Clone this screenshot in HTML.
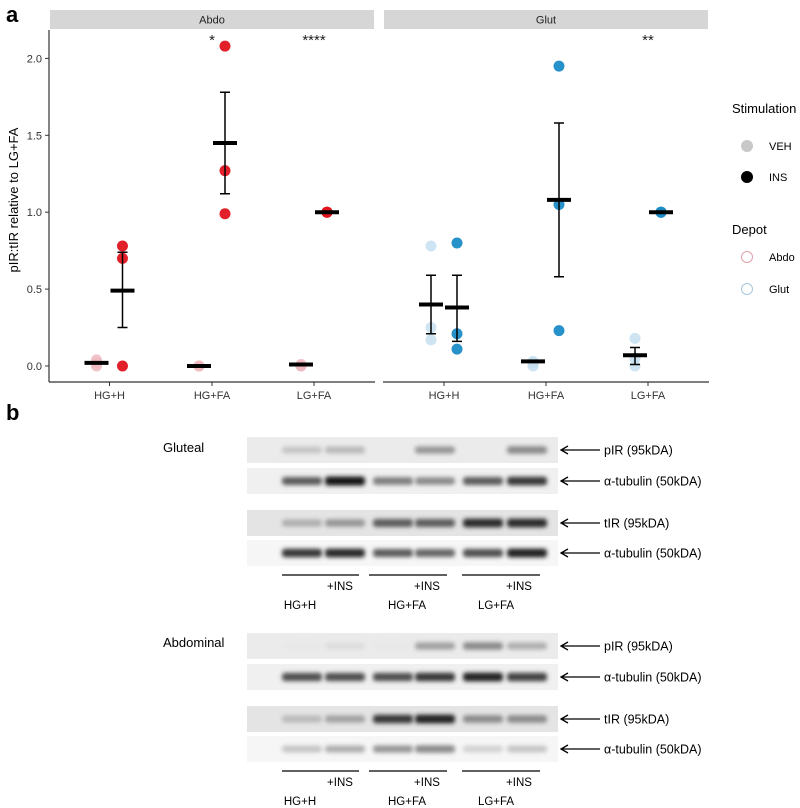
<!DOCTYPE html>
<html><head><meta charset="utf-8"><style>
body{margin:0;background:#fff;}
svg{display:block;font-family:"Liberation Sans",Arial,sans-serif;}
</style></head><body>
<svg id="fig" width="800" height="808" viewBox="0 0 800 808" xmlns="http://www.w3.org/2000/svg">
<defs><filter id="bl" x="-20%" y="-100%" width="140%" height="300%"><feGaussianBlur stdDeviation="2.2"/></filter></defs>
<text x="6" y="22" font-size="22" font-weight="bold">a</text>
<text x="6" y="420" font-size="22" font-weight="bold">b</text>
<g id="chart"></g>
<g id="blots"></g>
</svg>
<script>
const categories = ["HG+H","HG+FA","LG+FA"];
const panels = ["Abdo","Glut"];
const abdoVehPoints = [[0.02,0.04,0.0],[0.0,0.0,0.0],[0.0,0.01,0.0]];
const abdoInsPoints = [[0.78,0.70,0.0],[2.08,1.27,0.99],[1.0,1.0,1.0]];
const abdoVehMean = [0.02,0.0,0.01];
const abdoVehErr = [[0.02,0.02],[0,0],[0.01,0.01]];
const abdoInsMean = [0.49,1.45,1.0];
const abdoInsErr = [[0.25,0.74],[1.12,1.78],[1.0,1.0]];
const glutVehPoints = [[0.78,0.25,0.17],[0.03,0.0,0.02],[0.18,0.05,0.0]];
const glutInsPoints = [[0.80,0.21,0.11],[1.95,1.05,0.23],[1.0,1.0,1.0]];
const glutVehMean = [0.40,0.03,0.07];
const glutVehErr = [[0.21,0.59],[0.03,0.03],[0.01,0.12]];
const glutInsMean = [0.38,1.08,1.0];
const glutInsErr = [[0.16,0.59],[0.58,1.58],[1.0,1.0]];
const yTicks = [0.0,0.5,1.0,1.5,2.0];
const yTickLabels = ["0.0","0.5","1.0","1.5","2.0"];
const abdoStars = ["","*","****"];
const glutStars = ["","","**"];

const NS="http://www.w3.org/2000/svg";
const chart=document.getElementById('chart');
function mk(tag,attrs,parent,text){const e=document.createElementNS(NS,tag);for(const k in attrs)e.setAttribute(k,attrs[k]);if(text!==undefined)e.textContent=text;(parent||chart).appendChild(e);return e;}
function y(v){return 366-v*153.8;}
const panelX=[[50,374],[384,708]];
const catCenters=[[109.5,212,314],[444,546,648]];
function x(p,i,d){return catCenters[p][i]+(d===0?-13:13);}

// y axis
let e=mk('line',{x1:49,y1:30,x2:49,y2:382,stroke:'#333','stroke-width':1.2});

yTicks.forEach((t,i)=>{
  let l=mk('line',{x1:45,x2:49,y1:y(t),y2:y(t),stroke:'#333'});
  
  let tx=mk('text',{x:42,y:y(t)+4,'font-size':11,'text-anchor':'end',fill:'#333'},chart,yTickLabels[i]);
  
});
e=mk('text',{x:0,y:0,'font-size':13,'text-anchor':'middle',transform:'translate(18,200) rotate(-90)'},chart,'pIR:tIR relative to LG+FA');


const data=[
 {vp:abdoVehPoints,ip:abdoInsPoints,vm:abdoVehMean,ve:abdoVehErr,im:abdoInsMean,ie:abdoInsErr,stars:abdoStars,dark:'#e0141e',light:'#efb8bf'},
 {vp:glutVehPoints,ip:glutInsPoints,vm:glutVehMean,ve:glutVehErr,im:glutInsMean,ie:glutInsErr,stars:glutStars,dark:'#1b8bc6',light:'#c6dff0'}];
panels.forEach((name,p)=>{
  const [a,b]=panelX[p];
  let s=mk('rect',{x:a,y:10,width:b-a,height:19,fill:'#d6d6d6'});
  
  let st=mk('text',{x:(a+b)/2,y:23.5,'font-size':11,'text-anchor':'middle',fill:'#222'},chart,name);
  
  let ax=mk('line',{x1:a-1,x2:b+1,y1:382,y2:382,stroke:'#333','stroke-width':1.2});
  
  const d=data[p];
  categories.forEach((c,i)=>{
    let tk=mk('line',{x1:catCenters[p][i],x2:catCenters[p][i],y1:382,y2:386,stroke:'#333'});
    
    let tl=mk('text',{x:catCenters[p][i],y:399,'font-size':11,'text-anchor':'middle',fill:'#333'},chart,c);
    
    [[d.vp,d.light,0],[d.ip,d.dark,1]].forEach(([pts,col,dd])=>{
      pts[i].forEach(v=>{
        let ci=mk('circle',{cx:x(p,i,dd),cy:y(v),r:5.5,fill:col,'fill-opacity':dd?0.95:0.85});
        
      });
    });
    [[d.vm,d.ve,0],[d.im,d.ie,1]].forEach(([m,er,dd])=>{
      const cx=x(p,i,dd);
      if(er[i][1]-er[i][0]>0.005){
        let g=mk('path',{d:`M${cx-5},${y(er[i][0])}H${cx+5}M${cx},${y(er[i][0])}V${y(er[i][1])}M${cx-5},${y(er[i][1])}H${cx+5}`,stroke:'#000','stroke-width':1.5,fill:'none'});
        
      }
      let mb=mk('line',{x1:cx-12,x2:cx+12,y1:y(m[i]),y2:y(m[i]),stroke:'#000','stroke-width':4});
      
    });
    if(d.stars[i]){
      let sx=mk('text',{x:catCenters[p][i],y:45,'font-size':15,'text-anchor':'middle',fill:'#222'},chart,d.stars[i]);
      
    }
  });
});
// legend
const lg=mk('g',{});

[['Stimulation',732,113],['Depot',732,234]].forEach(([t,lx,ly])=>{let q=mk('text',{x:lx,y:ly,'font-size':13},lg,t);});
[['VEH',146,'#c8c8c8','#c8c8c8'],['INS',177,'#000','#000'],['Abdo',257,'none','#e0a0a8'],['Glut',289,'none','#a8c8dc']].forEach(([t,ly,f,s])=>{
  let c=mk('circle',{cx:747,cy:ly,r:5.5,fill:f,stroke:s},lg);
  let q=mk('text',{x:769,y:ly+4,'font-size':11},lg,t);
});

// blots
const blots=document.getElementById('blots');
const laneX=[302,345,393,435,483,527];
const sections=[
 {title:'Gluteal',ty:452,off:0,rows:[[0.25,0.3,0.0,0.45,0.0,0.5],[0.7,1.0,0.55,0.5,0.7,0.85],[0.35,0.45,0.7,0.7,0.9,0.9],[0.85,0.9,0.7,0.65,0.75,0.95]]},
 {title:'Abdominal',ty:647,off:196,rows:[[0.1,0.15,0.1,0.4,0.5,0.35],[0.75,0.75,0.75,0.85,0.95,0.8],[0.3,0.4,0.85,0.95,0.5,0.5],[0.25,0.35,0.45,0.5,0.2,0.25]]}];
const rowY=[[437,26],[468,26],[510,26],[540,26]];
const rowBg=['#ebebeb','#f0f0f0','#e4e4e4','#f6f6f6'];
const rowLbl=['pIR (95kDA)','α-tubulin (50kDA)','tIR (95kDA)','α-tubulin (50kDA)'];
sections.forEach(sec=>{
  let t=mk('text',{x:163,y:sec.ty,'font-size':13},blots,sec.title);
  
  sec.rows.forEach((r,ri)=>{
    const yy=rowY[ri][0]+sec.off, h=rowY[ri][1];
    let bg=mk('rect',{x:247,y:yy,width:311,height:h,fill:rowBg[ri]},blots);
    
    r.forEach((v,li)=>{
      if(v<=0.02)return;
      const g=Math.round(255-v*235);
      let bd=mk('rect',{x:laneX[li]-20,y:yy+h/2-3-v*1.5,width:40,height:6+v*3,rx:3,fill:`rgb(${g},${g},${g})`,filter:'url(#bl)'},blots);
      
    });
    let ar=mk('path',{d:`M562,${yy+h/2}H600M568,${yy+h/2-4}L561,${yy+h/2}L568,${yy+h/2+4}`,stroke:'#000','stroke-width':1.3,fill:'none'},blots);
    
    let lt=mk('text',{x:604,y:yy+h/2+4.5,'font-size':12.5},blots,rowLbl[ri]);
    
  });
  [[282,359,340,300],[369,447,427,407],[462,540,519,496]].forEach(([a,b,ix,lx],gi)=>{
    let ln=mk('line',{x1:a,x2:b,y1:575+sec.off,y2:575+sec.off,stroke:'#000','stroke-width':1.2},blots);
    
    let it=mk('text',{x:ix,y:590+sec.off,'font-size':11.5,'text-anchor':'middle'},blots,'+INS');
    
    let gl=mk('text',{x:lx,y:609+sec.off,'font-size':11.5,'text-anchor':'middle'},blots,categories[gi]);
    
  });
});
</script>
</body></html>
